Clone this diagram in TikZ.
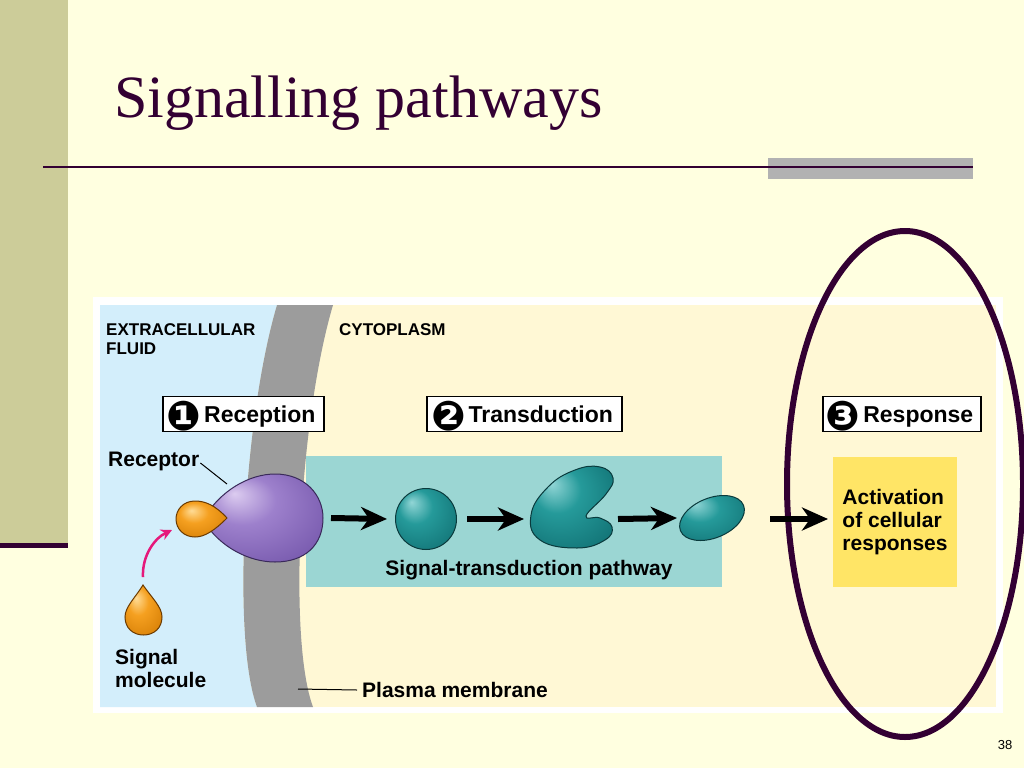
\documentclass[tikz,border=0pt]{standalone}
\usepackage{fontspec}
\setmainfont{Liberation Serif}
\setsansfont{Liberation Sans}
\newfontfamily\dingfont{DejaVu Sans}
\usetikzlibrary{arrows.meta,shapes.geometric}

\definecolor{slidebg}{HTML}{FFFFE0}
\definecolor{sidebar}{HTML}{CCCC99}
\definecolor{plum}{HTML}{330033}
\definecolor{bargray}{HTML}{B2B2B2}
\definecolor{fluidblue}{HTML}{D3EEFB}
\definecolor{cytoyellow}{HTML}{FFF8D5}
\definecolor{membgray}{HTML}{9C9C9C}
\definecolor{pathteal}{HTML}{9BD6D3}
\definecolor{respyellow}{HTML}{FFE566}
\definecolor{bindpink}{HTML}{E5197B}
\definecolor{recephi}{HTML}{DCCCF0}
\definecolor{recepmid}{HTML}{9D80CC}
\definecolor{recepdark}{HTML}{6E50A6}
\definecolor{recepline}{HTML}{3A2A5A}
\definecolor{ligandhi}{HTML}{FFDC96}
\definecolor{ligandmid}{HTML}{F5A020}
\definecolor{liganddark}{HTML}{D07800}
\definecolor{ligandline}{HTML}{6B3A00}
\definecolor{tealhi}{HTML}{92D6D6}
\definecolor{tealmid}{HTML}{259A9A}
\definecolor{tealdark}{HTML}{0E6B6E}
\definecolor{tealline}{HTML}{0A3A3C}

\pgfdeclareradialshading{recepshade}{\pgfpoint{-12bp}{14bp}}{color(0bp)=(recephi); color(14bp)=(recepmid); color(40bp)=(recepdark); color(50bp)=(recepdark)}
\pgfdeclareradialshading{ligandshade}{\pgfpoint{-10bp}{12bp}}{color(0bp)=(ligandhi); color(14bp)=(ligandmid); color(40bp)=(liganddark); color(50bp)=(liganddark)}
\pgfdeclareradialshading{tealshade}{\pgfpoint{-12bp}{14bp}}{color(0bp)=(tealhi); color(14bp)=(tealmid); color(40bp)=(tealdark); color(50bp)=(tealdark)}

\newcommand{\stepno}[1]{\hspace*{-5pt}\smash{\raisebox{-8.5pt}{\dingfont\fontsize{41}{41}\selectfont #1}}\hspace*{-1pt}}

\tikzset{
  stepbox/.style = {draw=black, line width=1.2pt, fill=white, minimum height=35pt, inner sep=0pt,
                    text height=20pt, text depth=4pt, font=\sffamily\bfseries\fontsize{23}{23}\selectfont},
  lbl/.style = {inner sep=0pt, align=left, font=\sffamily\bfseries\fontsize{21}{23}\selectfont},
  capslbl/.style = {inner sep=0pt, align=left, font=\sffamily\bfseries\fontsize{17}{19}\selectfont},
  flowArrow/.style = {line width=6pt, -{Stealth[length=26pt, width=23pt, inset=8pt]}},
  bindArrow/.style = {bindpink, line width=2.5pt, -{Stealth[length=11pt, width=11pt]}},
  molecule/.style = {line width=1pt}
}

\begin{document}
\begin{tikzpicture}[x=1pt, y=-1pt]
\useasboundingbox (0,0) rectangle (1024,768);
\fill[slidebg] (0,0) rectangle (1024,768);

% slide frame
\fill[sidebar] (0,0) rectangle (68,543);
\fill[plum] (0,543) rectangle (68,548);
\node[anchor=base west, inner sep=0pt, text=plum, font=\fontsize{60}{60}\selectfont] (title) at (114,117) {Signalling pathways};
\fill[bargray] (768,158) rectangle (973,179);
\draw[plum, line width=2pt] (43,167) -- (973,167);

% panel
\fill[white] (93,297) rectangle (1003,713);
\fill[cytoyellow] (100,305) rectangle (996,707);
\fill[fluidblue] (100,305) -- (277,305) .. controls (243,420) and (232,640) .. (257,707) -- (100,707) -- cycle;
\fill[membgray] (277,305) -- (333,305) .. controls (299,420) and (288,640) .. (313,707)
  -- (257,707) .. controls (232,640) and (243,420) .. (277,305) -- cycle;
\fill[pathteal] (306,456) rectangle (722,587);

\node[capslbl, anchor=north west] (fluid) at (106,323) {EXTRACELLULAR\\FLUID};
\node[capslbl, anchor=north west] (cyto) at (339,323) {CYTOPLASM};

% step boxes
\node[stepbox, minimum width=161pt] (reception) at (243.5,414) {\stepno{❶}\,Reception};
\node[stepbox, minimum width=195pt] (transduction) at (524.5,414) {\stepno{❷}\,Transduction};
\node[stepbox, minimum width=158pt] (response) at (902,414) {\stepno{❸}\,Response};

% receptor with bound signal
\shade[shading=recepshade, draw=recepline, molecule] (203,520) .. controls (220,490) and (250,474) .. (275,474)
  .. controls (305,474) and (323,495) .. (323,518) .. controls (323,545) and (305,562) .. (275,562)
  .. controls (250,562) and (220,548) .. (203,520) -- cycle;
\coordinate (recep) at (323,518);
\coordinate (recepedge) at (227,484);
\shade[shading=ligandshade, draw=ligandline, molecule] (227,518) .. controls (215,505) and (205,501) .. (195,501)
  .. controls (183,501) and (176,510) .. (176,519) .. controls (176,529) and (184,537) .. (195,537)
  .. controls (205,537) and (215,530) .. (227,518) -- cycle;
\coordinate (boundsig) at (172,530);

% free signal molecule
\shade[shading=ligandshade, draw=ligandline, molecule] (143,585) .. controls (135,598) and (125,607) .. (125,617)
  .. controls (125,628) and (133,635) .. (143.5,635) .. controls (154,635) and (162,628) .. (162,617)
  .. controls (162,607) and (152,598) .. (143,585) -- cycle;
\coordinate (freesig) at (143,585);
\draw[bindArrow] ([yshift=8pt]freesig) .. controls (142,555) and (155,538) .. (boundsig);

% relay proteins
\node[circle, minimum size=61pt, inner sep=0pt, shading=tealshade, draw=tealline, molecule] (sphere) at (426,519) {};
\shade[shading=tealshade, draw=tealline, molecule] plot[smooth cycle, tension=0.75] coordinates
  {(586,516) (606,494) (613,478) (600,467) (575,470) (548,487) (531,515) (540,540) (577,548) (605,540) (612,527) (600,518)};
\coordinate (beanleft) at (530,519);
\coordinate (beanright) at (612,519);
\node[ellipse, minimum width=68pt, minimum height=40pt, inner sep=0pt, rotate=22,
      shading=tealshade, draw=tealline, molecule] (relay) at (712,518) {};

% response
\node[lbl, fill=respyellow, minimum width=124pt, minimum height=130pt, inner xsep=0pt] (activation) at (895,522)
  {Activation\\of cellular\\responses};
\coordinate (actin) at (828,519);
\node[ellipse, draw=plum, line width=6pt, minimum width=236pt, minimum height=506pt, inner sep=0pt] (focus) at (905,484) {};

% pathway arrows
\draw[flowArrow] ([xshift=8pt]recep) -- ([xshift=-8pt]sphere.west);
\draw[flowArrow] ([xshift=10pt]sphere.east) -- ([xshift=-6pt]beanleft);
\draw[flowArrow] ([xshift=6pt]beanright) -- ([xshift=-35pt]relay.center);
\draw[flowArrow] ([xshift=58pt,yshift=-1pt]relay.center) -- (actin);

% labels
\node[lbl] (pathlbl) at (529,570) {Signal-transduction pathway};
\node[lbl, anchor=west] (receptorlbl) at (108,461) {Receptor};
\draw[line width=1pt] ([xshift=1pt,yshift=-2pt]receptorlbl.east) -- (recepedge);
\node[lbl, anchor=north west] (siglbl) at (115,649) {Signal\\molecule};
\coordinate (membpt) at (298,689);
\node[lbl, anchor=west] (memblbl) at (362,690) {Plasma membrane};
\draw[line width=1pt] (membpt) -- ([xshift=-5pt]memblbl.west);

\node[font=\sffamily\fontsize{13}{13}\selectfont] (pageno) at (1005,745) {38};
\end{tikzpicture}
\end{document}
